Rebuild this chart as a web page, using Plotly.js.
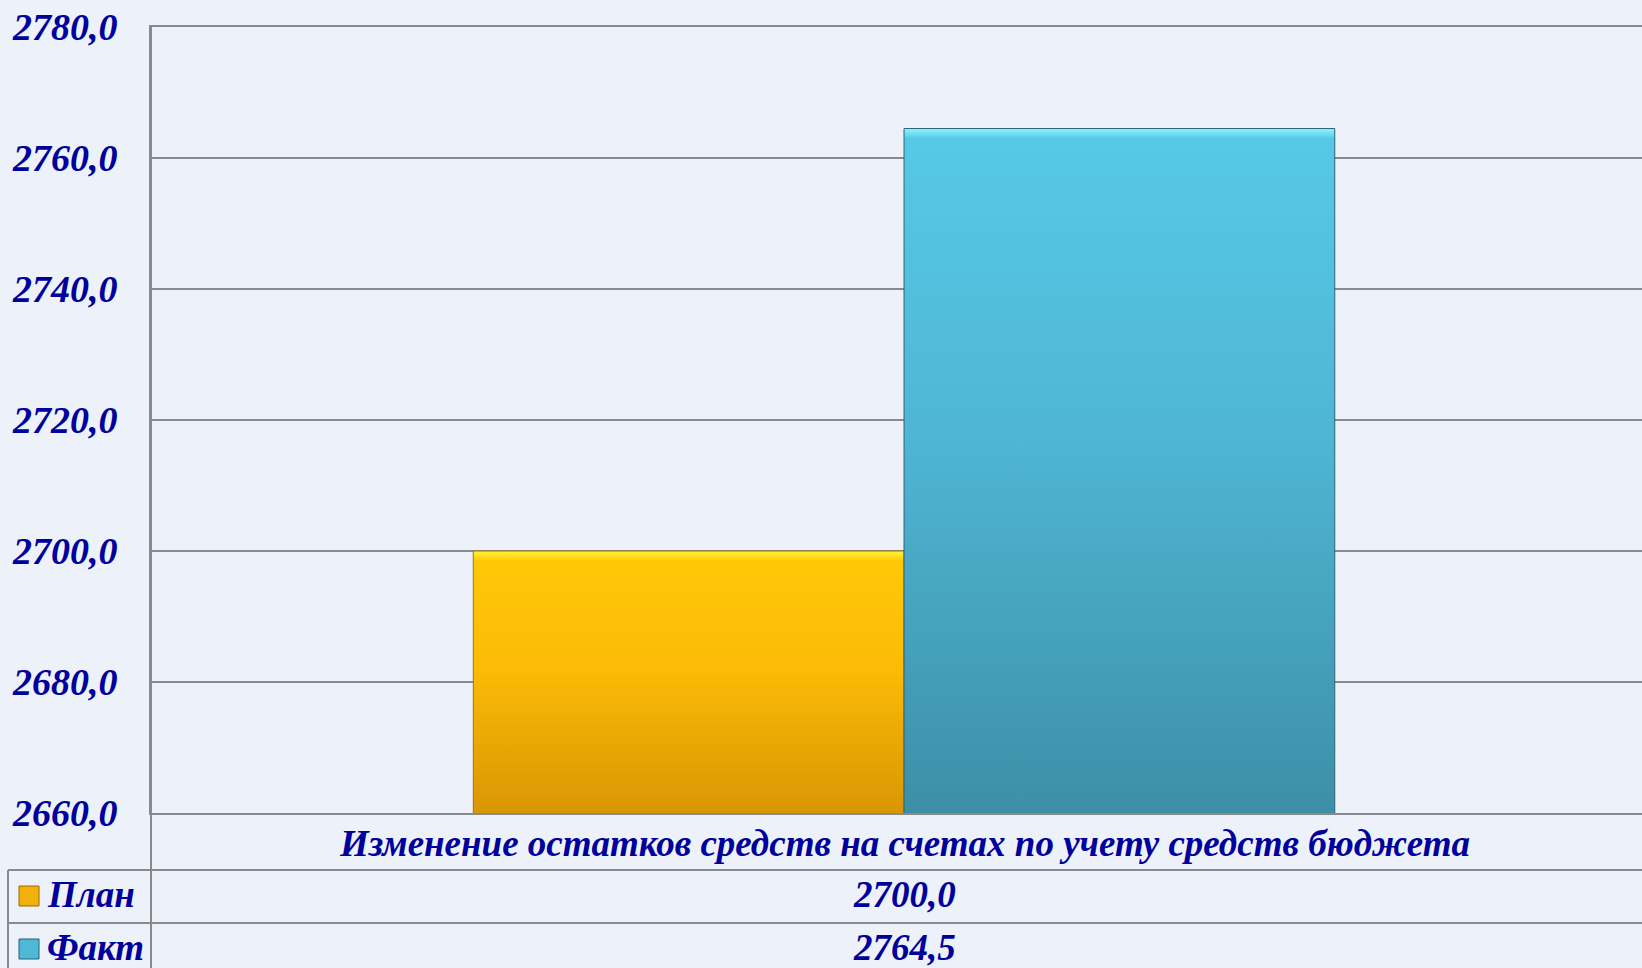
<!DOCTYPE html>
<html>
<head>
<meta charset="utf-8">
<script src="https://cdn.plot.ly/plotly-3.0.1.min.js"></script>
<style>
html,body{margin:0;padding:0;background:#EDF1FA;}
#chart{width:1642px;height:968px;}
</style>
</head>
<body>
<div id="chart"></div>
<script>
// ---- data ----
const categories = ['Изменение остатков средств на счетах по учету средств бюджета'];
const seriesNames = ['План', 'Факт'];
const planValues = [2700.0];
const factValues = [2764.5];
const yTickValues = [2660, 2680, 2700, 2720, 2740, 2760, 2780];

// ---- styling ----
const FONT = '"Liberation Serif", "Times New Roman", serif';
const TXT = '#00009C';
const GRID = '#8A8A8A';
const BG = '#EDF1FA';
const W = 1642, H = 968;
const plotL = 151, plotT = 27, plotB = 813, plotR = 1642;
const plotW = plotR - plotL, plotH = plotB - plotT;
const px2x = p => (p - plotL) / plotW;
const py2y = p => (plotB - p) / plotH;

const fmt = v => v.toFixed(1).replace('.', ',');

const traces = [
  {type: 'bar', name: seriesNames[0], x: categories, y: planValues,
   marker: {color: '#F0AC07', line: {color: '#A87400', width: 1}},
   hoverinfo: 'none'},
  {type: 'bar', name: seriesNames[1], x: categories, y: factValues,
   marker: {color: '#4AB0CE', line: {color: '#2A6475', width: 1}},
   hoverinfo: 'none'}
];

// data table rows (legend + values)
const rowTop = [870, 923];
const rowBottom = [923, 976];
const keyColors = [['#F2B00A', '#9A6A00'], ['#4FB8D6', '#25606F']];
const seriesVals = [planValues, factValues];

const shapes = [
  // vertical line under y axis through table
  {type: 'line', xref: 'paper', yref: 'paper', x0: 0, x1: 0, y0: py2y(plotT), y1: py2y(H + 5),
   line: {color: GRID, width: 2}},
  // category row bottom line
  {type: 'line', xref: 'paper', yref: 'paper', x0: px2x(8), x1: 1, y0: py2y(870), y1: py2y(870),
   line: {color: GRID, width: 2}},
  {type: 'line', xref: 'paper', yref: 'paper', x0: px2x(8), x1: 1, y0: py2y(923), y1: py2y(923),
   line: {color: GRID, width: 2}},
  // left border of legend column
  {type: 'line', xref: 'paper', yref: 'paper', x0: px2x(8), x1: px2x(8), y0: py2y(870), y1: py2y(H + 5),
   line: {color: GRID, width: 2}}
];
const annotations = [
  {xref: 'x', yref: 'paper', x: categories[0], y: py2y(843),
   xanchor: 'center', yanchor: 'middle', showarrow: false,
   text: '<b><i>' + categories[0] + '</i></b>',
   font: {family: FONT, size: 37, color: TXT}}
];
seriesNames.forEach((name, i) => {
  const cy = (rowTop[i] + rowBottom[i]) / 2 - 2;
  const ky = [rowTop[i] + 16, rowTop[i] + 36];
  shapes.push({type: 'rect', xref: 'paper', yref: 'paper',
    x0: px2x(19), x1: px2x(39), y0: py2y(ky[1]), y1: py2y(ky[0]),
    fillcolor: keyColors[i][0], line: {color: keyColors[i][1], width: 1}});
  annotations.push({xref: 'paper', yref: 'paper', x: px2x(45), y: py2y(cy),
    xanchor: 'left', yanchor: 'middle', showarrow: false, text: '<b><i>' + name + '</i></b>',
    font: {family: FONT, size: 37, color: TXT}});
  annotations.push({xref: 'x', yref: 'paper', x: categories[0], y: py2y(cy),
    xanchor: 'center', yanchor: 'middle', showarrow: false,
    text: '<b><i>' + fmt(seriesVals[i][0]) + '</i></b>',
    font: {family: FONT, size: 37, color: TXT}});
});

const layout = {
  width: W, height: H,
  paper_bgcolor: BG, plot_bgcolor: BG,
  margin: {l: plotL, r: 0, t: plotT, b: H - plotB, pad: 0},
  separators: ', ',
  showlegend: false,
  barmode: 'group', bargap: 0.428, bargroupgap: 0,
  font: {family: FONT, color: TXT},
  xaxis: {
    type: 'category', range: [-0.5, 0.49],
    showgrid: false, zeroline: false, showline: true, mirror: true,
    linecolor: GRID, linewidth: 2,
    ticks: '', showticklabels: false
  },
  yaxis: {
    range: [2660, 2780], tickvals: yTickValues, tickformat: '.1f',
    showgrid: true, gridcolor: GRID, gridwidth: 2, zeroline: false,
    showline: true, linecolor: GRID, linewidth: 2, ticks: '',
    ticklabelstandoff: 24,
    tickfont: {family: FONT, size: 38, color: TXT, weight: 'bold', style: 'italic'}
  },
  shapes: shapes,
  annotations: annotations
};

Plotly.newPlot('chart', traces, layout, {staticPlot: true}).then(gd => {
  // apply vertical gradients (in plot pixel space) to the bars drawn by plotly
  const svg = gd.querySelector('svg.main-svg');
  const ns = 'http://www.w3.org/2000/svg';
  let defs = svg.querySelector('defs');
  if (!defs) { defs = document.createElementNS(ns, 'defs'); svg.insertBefore(defs, svg.firstChild); }
  const ya = gd._fullLayout.yaxis;
  const yBottom = ya.l2p(ya.range[0]);
  const specs = [
    {id: 'gPlan', val: planValues[0], hl: '#FFF43A', top: '#FFC808', mid: '#FBBB06', bot: '#D99604'},
    {id: 'gFact', val: factValues[0], hl: '#90F4FF', top: '#55C9E7', mid: '#4FB6D4', bot: '#3D8FA7'}
  ];
  specs.forEach(g => {
    const yTop = ya.l2p(g.val);
    const h = yBottom - yTop;
    const lg = document.createElementNS(ns, 'linearGradient');
    lg.setAttribute('id', g.id);
    lg.setAttribute('gradientUnits', 'userSpaceOnUse');
    lg.setAttribute('x1', '0'); lg.setAttribute('y1', String(yTop));
    lg.setAttribute('x2', '0'); lg.setAttribute('y2', String(yBottom));
    [[0, g.hl], [Math.min(10 / h, 0.05), g.top], [0.45, g.mid], [1, g.bot]].forEach(s => {
      const st = document.createElementNS(ns, 'stop');
      st.setAttribute('offset', String(s[0]));
      st.setAttribute('stop-color', s[1]);
      lg.appendChild(st);
    });
    defs.appendChild(lg);
  });
  const barTraces = gd.querySelectorAll('.barlayer .trace');
  barTraces.forEach((t, i) => {
    t.querySelectorAll('path').forEach(p => {
      p.style.fill = 'url(#' + specs[i].id + ')';
    });
  });
});
</script>
</body>
</html>
